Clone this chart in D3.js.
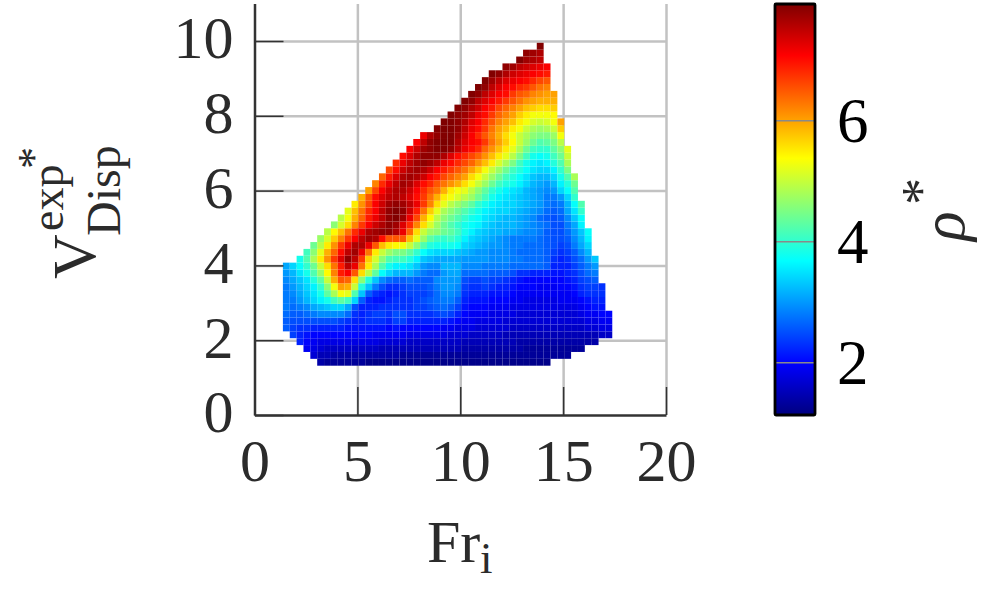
<!DOCTYPE html>
<html>
<head>
<meta charset="utf-8">
<title>rho map</title>
<script src="https://cdn.jsdelivr.net/npm/d3@7"></script>
<style>
  html, body { margin: 0; padding: 0; background: #fff; }
  text { font-family: "Liberation Serif", serif; }
</style>
</head>
<body>
<svg id="chart" width="996" height="594"></svg>
<script>
var xTicks = [0, 5, 10, 15, 20];
var yTicks = [0, 2, 4, 6, 8, 10];
var rhoTicks = [2, 4, 6];
var rhoDomain = [1.13, 7.92];
var jetColors = ["#00007f", "#0000ff", "#00ffff", "#ffff00", "#ff0000", "#7f0000"];
var jetStops = [0, 0.125, 0.375, 0.625, 0.875, 1];

// Bin sizes of the map
var FR_START = 1.38;
var FR_STEP = 0.3335;
var V_START = 1.318;
var V_STEP = 0.1837;

// First filled column in each row, lowest row first
var rowFirstCol = [5, 4, 3, 2, 1, 0, 0, 0, 0, 0, 0, 0, 0, 0, 0, 2, 3, 4, 5, 6, 7, 8, 9, 10, 11, 12, 13, 14, 15, 16, 17, 18, 19, 20, 22, 23, 24, 25, 26, 27, 28, 29, 30, 32, 34, 35, 37];

// Density, lowest row first
var rhoRows = [
[1.4,1.3,1.3,1.3,1.3,1.3,1.3,1.2,1.2,1.2,1.2,1.2,1.2,1.2,1.2,1.2,1.2,1.2,1.2,1.2,1.2,1.2,1.2,1.2,1.2,1.2,1.2,1.2,1.2,1.2,1.2,1.2,1.2,1.2],
[1.7,1.5,1.5,1.4,1.4,1.4,1.4,1.4,1.4,1.4,1.4,1.4,1.4,1.3,1.3,1.3,1.3,1.3,1.3,1.3,1.3,1.3,1.3,1.3,1.3,1.3,1.3,1.3,1.3,1.3,1.3,1.3,1.3,1.3,1.3,1.3,1.3,1.3],
[1.9,1.8,1.7,1.6,1.6,1.6,1.6,1.6,1.6,1.6,1.6,1.5,1.5,1.5,1.5,1.5,1.5,1.5,1.5,1.5,1.5,1.5,1.5,1.4,1.4,1.4,1.4,1.4,1.4,1.4,1.4,1.4,1.3,1.3,1.3,1.3,1.3,1.3,1.3,1.3,1.3],
[2.2,2.0,1.9,1.8,1.8,1.8,1.8,1.8,1.8,1.8,1.8,1.8,1.7,1.7,1.7,1.7,1.6,1.6,1.6,1.6,1.6,1.6,1.6,1.6,1.5,1.5,1.5,1.5,1.5,1.5,1.5,1.5,1.4,1.4,1.4,1.4,1.4,1.4,1.4,1.4,1.4,1.4,1.4,1.4],
[2.4,2.2,2.1,2.0,2.0,2.0,2.0,2.0,2.0,2.0,2.0,2.0,1.9,1.9,1.9,1.9,1.9,1.8,1.8,1.8,1.8,1.8,1.8,1.7,1.7,1.7,1.6,1.6,1.6,1.6,1.6,1.5,1.5,1.5,1.5,1.5,1.5,1.5,1.5,1.5,1.5,1.5,1.5,1.5,1.5,1.6,1.6],
[2.6,2.4,2.3,2.3,2.2,2.2,2.2,2.2,2.2,2.1,2.1,2.1,2.1,2.1,2.1,2.0,2.1,2.0,2.0,2.0,2.0,2.0,2.0,1.9,1.9,1.8,1.8,1.8,1.7,1.7,1.7,1.7,1.7,1.6,1.6,1.6,1.6,1.6,1.6,1.6,1.6,1.6,1.6,1.6,1.7,1.7,1.8,1.8],
[2.6,2.5,2.5,2.5,2.5,2.5,2.5,2.5,2.4,2.3,2.2,2.2,2.3,2.3,2.3,2.2,2.4,2.4,2.2,2.2,2.2,2.2,2.2,2.2,2.1,2.0,1.9,1.9,1.8,1.8,1.8,1.8,1.7,1.7,1.7,1.7,1.7,1.7,1.7,1.7,1.7,1.7,1.7,1.7,1.8,1.8,1.9,1.9],
[2.7,2.6,2.6,2.7,2.8,2.9,2.9,2.9,2.9,2.7,2.3,2.2,2.3,2.4,2.4,2.3,2.5,2.5,2.3,2.3,2.3,2.3,2.4,2.5,2.4,2.2,2.0,1.9,1.9,1.9,1.8,1.8,1.8,1.8,1.7,1.7,1.7,1.7,1.7,1.7,1.7,1.7,1.7,1.8,1.9,1.9,2.0,2.0],
[2.8,2.7,2.8,2.9,3.1,3.2,3.3,3.4,3.4,3.1,2.5,2.2,2.2,2.2,2.3,2.3,2.3,2.3,2.3,2.4,2.4,2.5,2.6,2.7,2.6,2.4,2.1,2.0,2.0,2.0,1.9,1.9,1.9,1.8,1.8,1.8,1.8,1.8,1.8,1.8,1.8,1.8,1.8,1.9,2.0,2.1,2.1],
[2.8,2.8,3.0,3.2,3.4,3.6,3.8,4.1,4.3,4.1,3.4,2.6,2.2,2.1,2.1,2.2,2.3,2.3,2.3,2.4,2.5,2.6,2.7,2.8,2.8,2.6,2.2,2.1,2.1,2.1,2.0,2.0,2.0,1.9,1.9,1.8,1.8,1.8,1.8,1.8,1.9,1.9,1.9,2.0,2.1,2.2,2.2],
[2.8,2.9,3.1,3.3,3.5,3.8,4.3,4.8,5.3,5.2,4.2,3.3,2.6,2.3,2.2,2.1,2.2,2.3,2.4,2.4,2.4,2.5,2.7,2.9,2.9,2.8,2.3,2.2,2.2,2.2,2.1,2.1,2.1,2.0,1.9,1.9,1.9,1.9,1.9,1.9,1.9,1.9,2.0,2.2,2.3,2.3,2.3],
[2.8,3.0,3.2,3.4,3.6,4.0,4.6,5.3,6.0,5.9,5.0,3.9,3.3,2.8,2.5,2.3,2.3,2.4,2.5,2.5,2.5,2.6,2.8,3.0,3.0,2.9,2.4,2.3,2.3,2.4,2.3,2.2,2.2,2.1,2.0,2.0,2.0,1.9,1.9,1.9,2.0,2.0,2.1,2.3,2.4,2.4,2.3],
[2.9,3.1,3.3,3.5,3.9,4.3,5.0,5.9,6.5,6.4,5.6,4.6,3.9,3.3,2.9,2.7,2.6,2.6,2.7,2.6,2.6,2.6,2.9,3.0,3.0,3.0,2.5,2.4,2.4,2.5,2.4,2.4,2.3,2.2,2.1,2.0,2.0,2.0,2.0,2.0,2.0,2.1,2.2,2.4,2.5,2.6],
[3.0,3.2,3.5,3.8,4.2,4.7,5.4,6.2,6.9,7.1,6.5,5.6,4.9,4.3,3.7,3.4,3.2,3.2,3.2,3.0,2.8,2.7,2.7,3.0,3.1,3.1,2.7,2.7,2.7,2.7,2.6,2.6,2.6,2.5,2.3,2.3,2.2,2.2,2.2,2.1,2.1,2.2,2.3,2.5,2.7,2.8],
[3.1,3.4,3.7,4.0,4.4,5.0,5.6,6.3,6.9,7.5,7.2,6.3,5.5,4.8,4.2,3.8,3.6,3.6,3.5,3.3,3.0,2.9,2.9,3.2,3.2,3.2,2.9,2.9,2.9,2.8,2.8,2.8,2.8,2.7,2.7,2.7,2.7,2.7,2.6,2.2,2.2,2.2,2.4,2.6,2.8,3.0],
[3.8,4.2,4.8,5.5,6.1,6.7,7.3,7.8,7.5,6.7,5.7,5.1,4.6,4.2,4.1,4.1,3.9,3.6,3.3,3.2,3.1,3.1,3.1,3.1,3.0,3.0,3.0,3.0,2.9,2.9,2.9,2.8,2.8,2.7,2.7,2.7,2.6,2.3,2.2,2.3,2.5,2.7,3.0,3.3],
[4.1,4.6,5.2,5.9,6.4,7.0,7.5,7.7,7.2,6.3,5.5,5.0,4.7,4.5,4.5,4.3,4.0,3.7,3.5,3.4,3.4,3.4,3.3,3.2,3.1,3.0,3.0,2.9,2.9,2.9,2.8,2.7,2.7,2.7,2.7,2.6,2.4,2.3,2.4,2.6,2.9,3.2],
[4.4,4.9,5.5,6.1,6.7,7.2,7.6,7.6,7.2,6.5,5.8,5.5,5.4,5.3,5.0,4.6,4.2,3.9,3.8,3.8,3.8,3.7,3.4,3.3,3.2,3.1,3.0,3.0,2.9,2.8,2.8,2.7,2.7,2.7,2.6,2.5,2.4,2.5,2.8,3.1,3.4],
[4.7,5.1,5.7,6.2,6.7,7.1,7.5,7.7,7.6,7.0,6.5,6.5,6.5,5.8,5.2,4.7,4.3,4.1,4.0,4.1,3.9,3.6,3.4,3.3,3.2,3.1,3.0,2.9,2.8,2.8,2.8,2.8,2.7,2.6,2.5,2.5,2.6,2.9,3.2,3.6],
[4.9,5.4,5.8,6.3,6.8,7.2,7.6,7.7,7.8,7.8,7.6,7.2,6.4,5.6,5.0,4.7,4.6,4.4,4.3,4.1,3.8,3.6,3.4,3.3,3.2,3.2,3.1,3.1,3.0,2.9,2.9,2.8,2.6,2.5,2.5,2.7,3.0,3.3,3.7],
[4.6,5.1,5.6,6.2,6.7,7.1,7.4,7.6,7.8,7.7,7.3,6.8,6.2,5.6,5.1,4.7,4.4,4.2,4.0,3.8,3.7,3.6,3.4,3.3,3.2,3.2,3.2,3.1,3.0,2.9,2.8,2.7,2.5,2.5,2.8,3.1,3.6],
[4.9,5.3,5.9,6.4,6.9,7.2,7.5,7.8,7.9,7.7,7.2,6.6,5.9,5.4,4.9,4.6,4.4,4.2,4.0,3.8,3.7,3.5,3.4,3.3,3.2,3.2,3.1,3.0,2.9,2.7,2.6,2.5,2.6,2.9,3.3,3.7],
[5.2,5.8,6.3,6.8,7.1,7.5,7.8,7.9,7.8,7.4,6.9,6.3,5.7,5.2,4.8,4.6,4.4,4.2,4.0,3.8,3.6,3.5,3.4,3.4,3.3,3.2,3.1,3.0,2.9,2.7,2.6,2.7,3.1,3.5,4.0],
[5.5,6.1,6.6,7.1,7.4,7.7,7.8,7.7,7.5,7.2,6.7,6.2,5.6,5.2,4.9,4.7,4.5,4.3,4.0,3.8,3.6,3.5,3.4,3.4,3.3,3.2,3.1,3.0,2.8,2.7,2.8,3.2,3.7,4.2],
[5.9,6.5,7.0,7.3,7.5,7.6,7.5,7.3,7.0,6.7,6.3,5.9,5.5,5.3,5.1,4.9,4.7,4.4,4.1,3.8,3.6,3.5,3.4,3.3,3.2,3.1,3.0,2.8,2.8,3.0,3.4,4.0],
[6.0,6.6,7.1,7.4,7.6,7.6,7.4,7.1,6.8,6.5,6.3,5.9,5.5,5.3,5.2,4.9,4.6,4.3,4.0,3.8,3.6,3.5,3.4,3.2,3.1,3.0,2.9,3.0,3.4,3.7,4.2],
[6.2,6.8,7.2,7.5,7.7,7.6,7.3,7.0,6.8,6.5,6.3,6.1,5.9,5.6,5.3,5.0,4.7,4.4,4.1,3.9,3.8,3.6,3.4,3.2,3.1,3.0,3.2,3.6,3.9,4.4],
[6.4,6.9,7.3,7.6,7.7,7.6,7.4,7.1,6.9,6.6,6.4,6.2,6.0,5.6,5.3,5.0,4.7,4.4,4.1,3.9,3.7,3.5,3.3,3.2,3.2,3.4,3.8,4.2,4.8],
[6.6,7.0,7.4,7.6,7.7,7.6,7.4,7.1,6.9,6.7,6.5,6.3,6.0,5.7,5.3,5.0,4.7,4.4,4.1,3.9,3.7,3.5,3.4,3.4,3.6,4.0,4.5],
[6.8,7.2,7.5,7.7,7.8,7.7,7.5,7.2,7.0,6.8,6.6,6.4,6.1,5.8,5.5,5.1,4.8,4.5,4.1,3.8,3.6,3.5,3.6,3.9,4.2,4.8],
[7.0,7.3,7.6,7.8,7.8,7.8,7.6,7.3,7.0,6.8,6.6,6.4,6.1,5.8,5.5,5.2,4.9,4.5,4.1,3.8,3.7,3.8,4.1,4.4,5.0],
[7.1,7.4,7.7,7.8,7.9,7.9,7.8,7.5,7.2,7.0,6.8,6.4,6.1,5.8,5.5,5.2,4.8,4.4,4.1,4.0,4.0,4.3,4.6,5.2],
[7.1,7.5,7.8,7.9,8.0,7.9,7.6,7.3,7.1,7.0,6.7,6.3,6.0,5.7,5.4,5.0,4.7,4.4,4.2,4.3,4.5,4.9],
[7.2,7.6,7.8,7.9,7.9,7.7,7.4,7.1,6.8,6.5,6.2,5.9,5.6,5.3,5.0,4.8,4.6,4.5,4.5,4.7,5.3],
[7.9,8.0,7.9,7.8,7.5,7.2,7.0,6.7,6.3,6.0,5.8,5.5,5.3,5.0,4.8,4.7,4.8,5.0,5.7],
[8.0,7.9,7.8,7.6,7.3,7.1,6.8,6.5,6.2,6.0,5.8,5.5,5.3,5.1,5.0,5.1,5.3,6.0],
[7.9,7.8,7.7,7.5,7.2,7.0,6.7,6.4,6.2,6.0,5.7,5.5,5.3,5.3,5.3,5.4],
[7.9,7.8,7.6,7.4,7.1,6.9,6.6,6.4,6.2,6.0,5.8,5.7,5.6,5.6,5.7],
[7.9,7.8,7.5,7.3,7.1,6.9,6.7,6.5,6.3,6.1,6.0,5.9,5.9,5.9],
[7.9,7.8,7.5,7.3,7.1,7.0,6.7,6.5,6.4,6.2,6.1,6.0,6.0],
[8.0,7.8,7.5,7.3,7.1,7.0,6.8,6.7,6.5,6.3,6.2],
[7.9,7.7,7.5,7.3,7.2,7.1,7.0,6.8,6.6,6.5],
[7.9,7.8,7.6,7.4,7.3,7.2,7.1,7.0,6.9],
[7.8,7.7,7.5,7.4,7.3,7.2,7.1],
[7.9,7.7,7.6,7.5],
[7.8,7.7,7.6],
[7.9]
];

var svg = d3.select("#chart");

var xScale = d3.scaleLinear().domain([0, 20]).range([254.5, 666]);
var yScale = d3.scaleLinear().domain([0, 11]).range([415, 3.6]);
var rhoScale = d3.scaleLinear().domain(rhoDomain).range([415, 4]);

var colorScale = d3.scaleLinear()
  .domain(jetStops.map(function (t) {
    return rhoDomain[0] + t * (rhoDomain[1] - rhoDomain[0]);
  }))
  .range(jetColors)
  .clamp(true);

// ##### Grid #####

var grid = svg.append("g");

grid.append("g")
  .attr("transform", "translate(0, 415)")
  .call(d3.axisBottom(xScale).tickValues(xTicks.slice(1)).tickSize(-411).tickFormat(""))
  .call(styleGrid);

grid.append("g")
  .attr("transform", "translate(254.5, 0)")
  .call(d3.axisLeft(yScale).tickValues(yTicks.slice(1)).tickSize(-411.5).tickFormat(""))
  .call(styleGrid);

function styleGrid(g) {
  g.select(".domain").remove();
  g.selectAll("line").attr("stroke", "#c2c2c2").attr("stroke-width", 2.5);
}

// ##### Map cells #####

var cells = [];
rhoRows.forEach(function (row, j) {
  row.forEach(function (rho, k) {
    cells.push({ col: rowFirstCol[j] + k, row: j, rho: rho });
  });
});

svg.append("g").selectAll("rect")
  .data(cells)
  .enter()
  .append("rect")
  .attr("x", function (d) { return xScale(FR_START + d.col * FR_STEP); })
  .attr("width", function () { return xScale(FR_STEP) - xScale(0); })
  .attr("y", function (d) { return yScale(V_START + (d.row + 1) * V_STEP); })
  .attr("height", function () { return yScale(0) - yScale(V_STEP); })
  .attr("fill", function (d) { return colorScale(d.rho); });

// ##### Axes #####

var xAxis = svg.append("g")
  .attr("transform", "translate(0, 415)")
  .call(d3.axisBottom(xScale).tickValues(xTicks).tickSize(-28).tickSizeOuter(0).tickPadding(23));

var yAxis = svg.append("g")
  .attr("transform", "translate(254.5, 0)")
  .call(d3.axisLeft(yScale).tickValues(yTicks).tickSize(-29).tickSizeOuter(0).tickPadding(21));

[xAxis, yAxis].forEach(function (axis) {
  axis.select(".domain").attr("stroke", "#333").attr("stroke-width", 2.5);
  axis.selectAll("line").attr("stroke", "#333").attr("stroke-width", 1.5);
  axis.selectAll("text").attr("fill", "#2b2b2b").style("font-size", "60px").style("font-family", "Liberation Serif");
});
yAxis.selectAll("text").attr("dy", "0.28em");

// ##### Colour bar #####

var defs = svg.append("defs");
var gradient = defs.append("linearGradient")
  .attr("id", "jet")
  .attr("x1", 0).attr("y1", 1).attr("x2", 0).attr("y2", 0);

gradient.selectAll("stop")
  .data(jetStops)
  .enter()
  .append("stop")
  .attr("offset", function (d) { return d; })
  .attr("stop-color", function (d, i) { return jetColors[i]; });

svg.append("rect")
  .attr("x", 775)
  .attr("y", rhoScale.range()[1])
  .attr("width", 40)
  .attr("height", rhoScale.range()[0] - rhoScale.range()[1])
  .attr("fill", "url(#jet)");

var rhoAxis = svg.append("g")
  .attr("transform", "translate(815, 0)")
  .call(d3.axisRight(rhoScale).tickValues(rhoTicks).tickSize(-40).tickSizeOuter(0).tickPadding(22).tickFormat(d3.format("d")));

rhoAxis.select(".domain").remove();
rhoAxis.selectAll("line").attr("stroke", "#8a8a8a").attr("stroke-width", 1.5);
rhoAxis.selectAll("text").attr("fill", "#000").attr("dy", "0.34em").style("font-size", "63px").style("font-family", "Liberation Serif");

svg.append("rect")
  .attr("x", 775)
  .attr("y", rhoScale.range()[1])
  .attr("width", 40)
  .attr("height", rhoScale.range()[0] - rhoScale.range()[1])
  .attr("fill", "none")
  .attr("stroke", "#000")
  .attr("stroke-width", 2.8)
  .attr("rx", 1);

// ##### Labels #####

function addLabel(text, x, y, size, rotate, style) {
  svg.append("text")
    .attr("transform", "translate(" + x + ", " + y + ")" + (rotate ? " rotate(-90)" : ""))
    .attr("fill", "#2b2b2b")
    .style("font-size", size + "px")
    .style("font-style", style || "normal")
    .text(text);
}

addLabel("Fr", 427, 562, 60, false);
addLabel("i", 480, 573, 45, false);

addLabel("V", 95, 279, 62, true);
addLabel("exp", 63, 231, 46, true);
addLabel("Disp", 120, 236, 48, true);
addLabel("*", 48, 169, 44, true);

addLabel("\u03c1", 964, 241, 62, true, "italic");
addLabel("*", 939, 205, 54, true);
</script>
</body>
</html>
